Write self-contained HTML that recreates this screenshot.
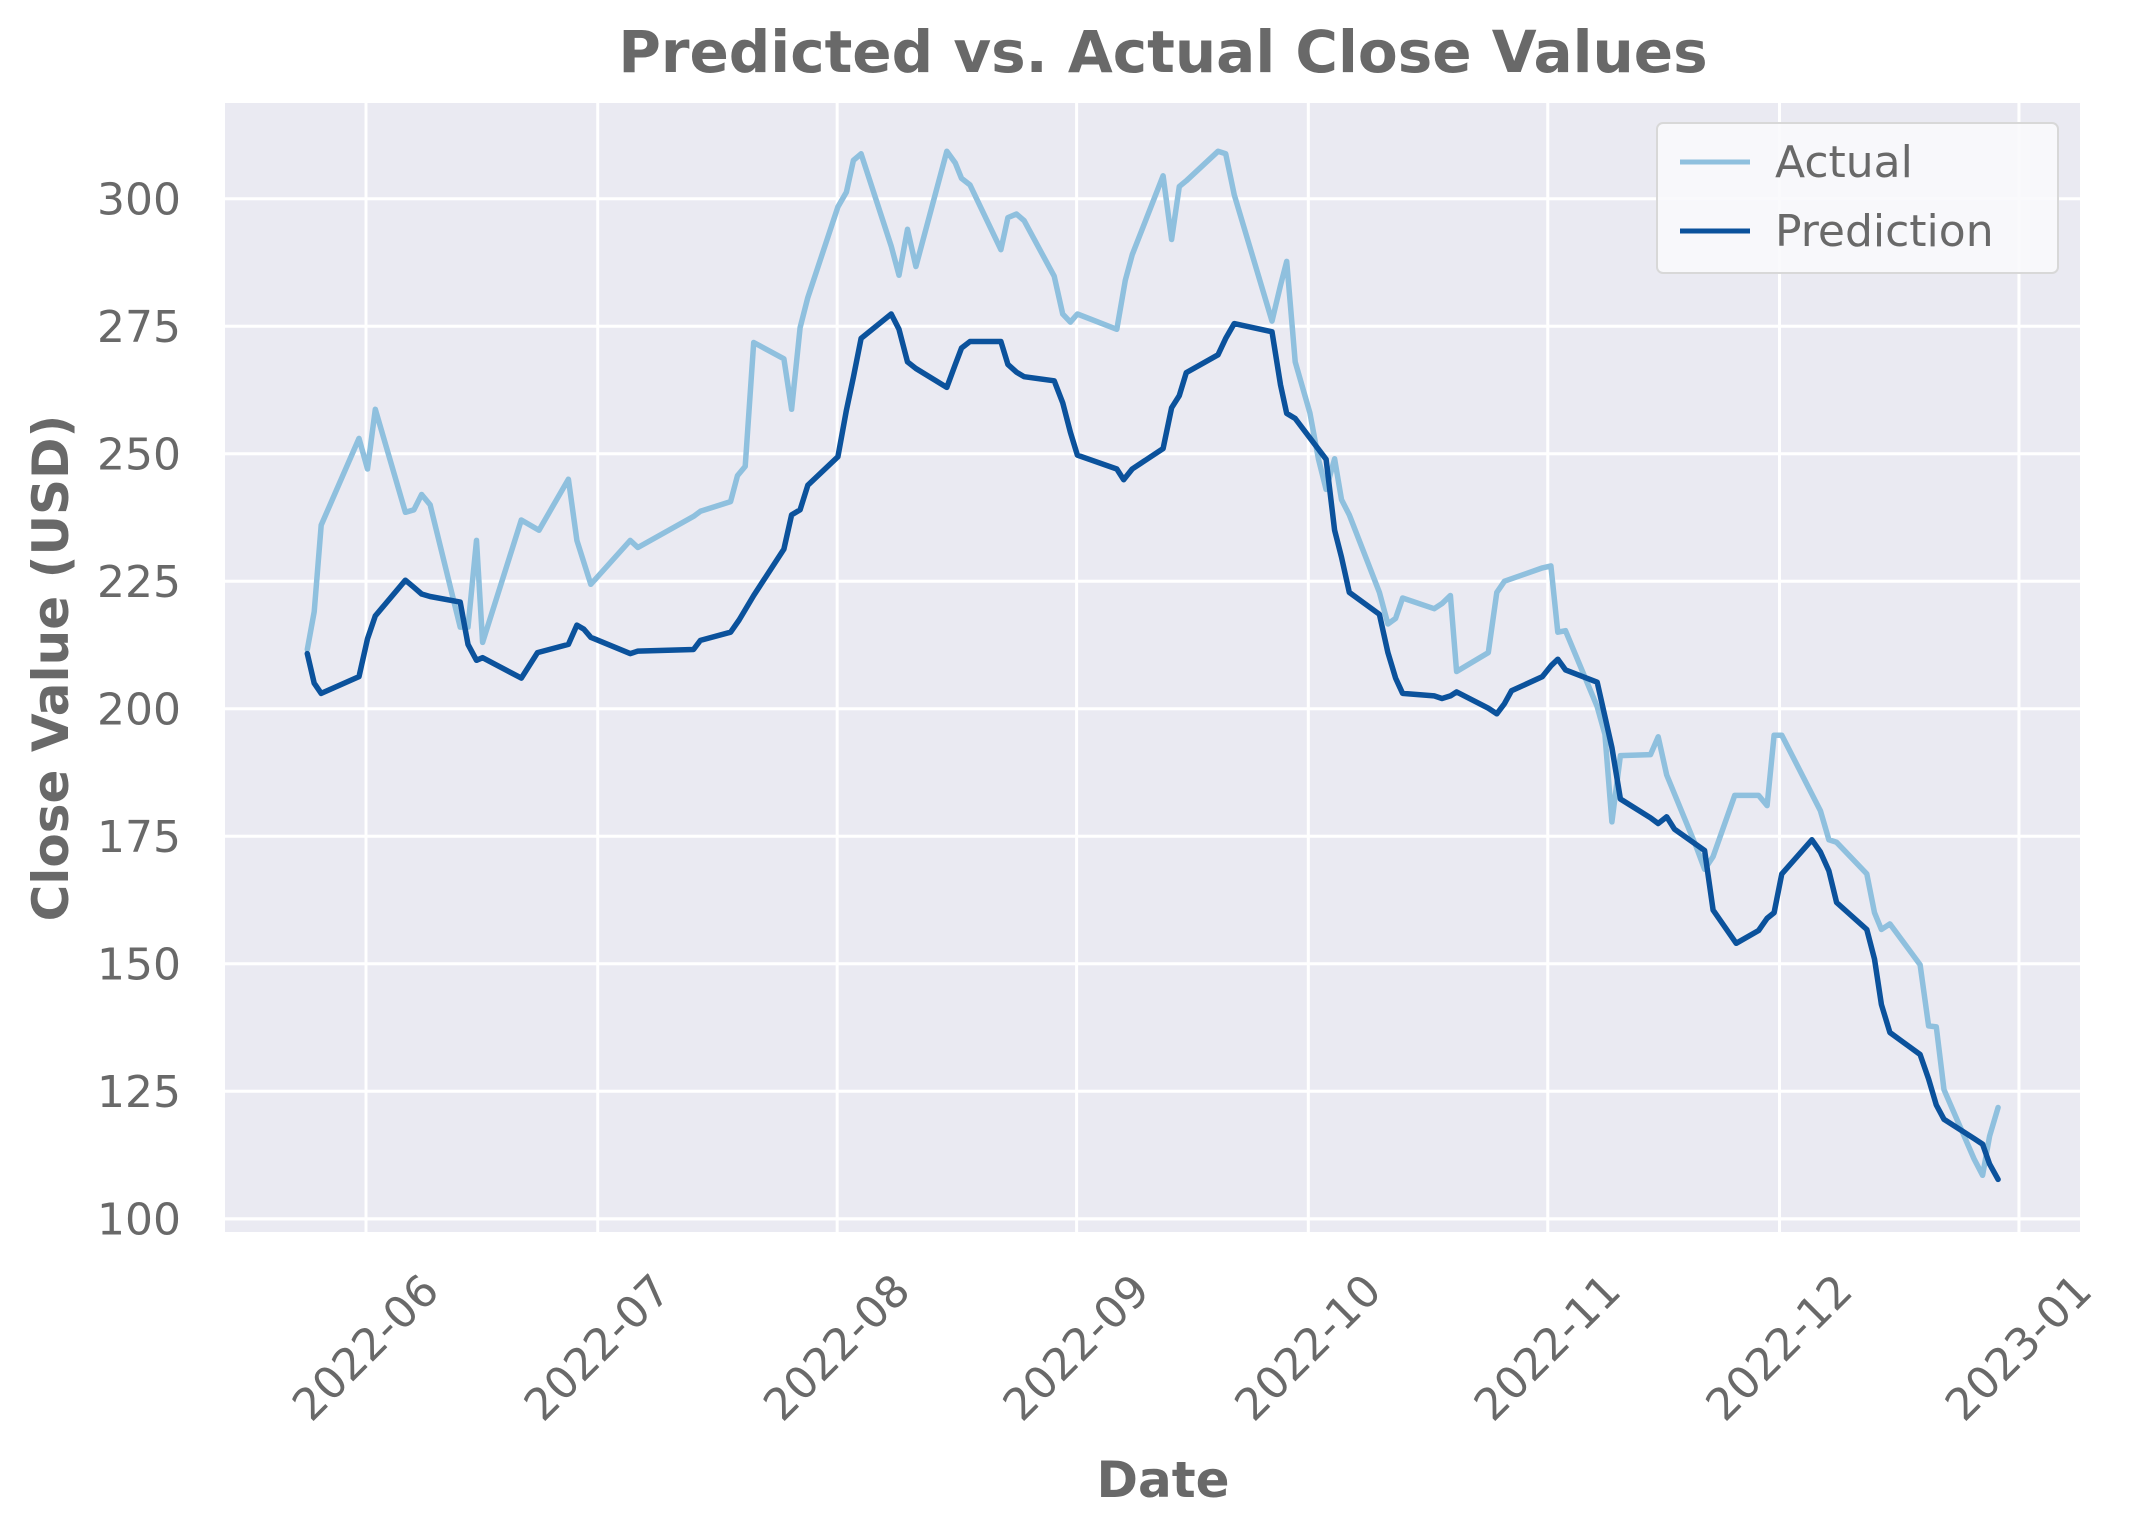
<!DOCTYPE html>
<html><head><meta charset="utf-8"><style>
html,body{margin:0;padding:0;background:#fff}
svg{display:block;font-family:"DejaVu Sans","Liberation Sans",sans-serif}
</style></head><body>
<svg id="chart" width="2132" height="1534" viewBox="0 0 2132 1534" xmlns="http://www.w3.org/2000/svg">
<rect x="225" y="103" width="1855" height="1129" fill="#eaeaf2"/>
<g id="grid"></g>
<g id="series"></g>
<g id="ticks" fill="#696969" font-size="44"></g>
<text x="1163" y="72" text-anchor="middle" font-size="58" font-weight="bold" fill="#696969">Predicted vs. Actual Close Values</text>
<text x="1163" y="1497" text-anchor="middle" font-size="50" font-weight="bold" fill="#696969">Date</text>
<text transform="translate(68,668) rotate(-90)" text-anchor="middle" font-size="50" font-weight="bold" fill="#696969">Close Value (USD)</text>
<g>
<rect x="1657" y="123" width="401" height="150" rx="6" fill="#fafafc" fill-opacity="0.9" stroke="#d8d8d8" stroke-width="2"/>
<line x1="1680" y1="162" x2="1750" y2="162" stroke="#8fc0de" stroke-width="5"/>
<text x="1775" y="177" font-size="44" fill="#696969">Actual</text>
<line x1="1680" y1="231" x2="1750" y2="231" stroke="#0b529c" stroke-width="5"/>
<text x="1775" y="246" font-size="44" fill="#696969">Prediction</text>
</g>
</svg>
<script>
// day offsets from 2022-06-01
const actualDays=[-7.6,-6.7,-5.8,-0.9,0.2,1.2,5.1,6.2,7.2,8.3,12.2,13.2,14.3,15.1,20.1,22.4,26.2,27.3,29.1,34.2,35.2,42.4,43.3,47.2,48.1,49.1,50.2,54.1,55.1,56.2,57.2,61.1,62.2,63.1,64.1,68.0,69.0,70.1,71.2,75.2,76.3,77.1,78.2,82.2,83.1,84.2,85.2,89.1,90.2,91.2,92.1,97.2,98.3,99.2,103.2,104.3,105.3,106.2,110.3,111.3,112.4,117.3,118.4,119.2,120.3,122.2,123.3,124.3,125.4,126.3,127.3,131.2,132.3,133.3,134.2,138.3,139.3,140.4,141.2,145.3,146.4,147.4,152.3,153.4,154.3,155.3,159.4,160.4,161.3,162.4,166.3,167.3,168.4,172.2,173.3,174.4,177.2,180.3,181.4,182.3,183.3,188.3,189.4,190.4,194.3,195.3,196.2,197.3,201.2,202.3,203.3,204.3,208.2,209.3,210.2,211.3];
const actualValues=[211.6,219,236,253,247,258.7,238.5,239,242,240,216,216,233,213,237,235,245,233,224.4,233,231.6,237.7,238.7,240.6,245.7,247.5,271.8,268.6,258.7,274.7,280.6,298.4,301.3,307.5,308.8,290.7,285,294,286.7,309.3,307,304,302.7,290,296.3,297,295.7,284.8,277.4,275.8,277.4,274.4,284,289,304.5,292,302.4,303.5,309.3,308.8,300.8,276,283,287.7,268,258,249,243,249,241,238,222.8,216.6,217.7,221.7,219.6,220.6,222.2,207.3,211,222.8,225,227.6,228,215,215.3,200.4,195,177.8,190.8,191,194.5,187,173,168.5,171,183,183,181,194.8,194.8,180,174.3,173.8,167.6,160,156.7,157.8,149.8,137.8,137.6,125.3,111.7,108.5,116.2,121.8];
const predDays=[-7.6,-6.7,-5.8,-0.9,0.2,1.2,5.1,6.2,7.2,8.3,12.2,13.2,14.3,15.1,20.1,22.2,26.2,27.3,28.2,29.1,34.2,35.2,42.4,43.3,47.2,48.3,50.2,54.1,55.1,56.2,57.2,61.1,62.2,63.1,64.1,68.0,69.0,70.1,71.2,75.2,76.3,77.1,78.2,82.2,83.1,84.2,85.2,89.1,90.2,91.2,92.1,97.2,98.1,99.2,103.2,104.3,105.3,106.2,110.3,111.3,112.4,117.3,118.4,119.2,120.3,124.3,125.4,126.3,127.3,131.2,132.3,133.3,134.2,138.3,139.3,140.4,141.2,145.3,146.4,147.4,148.3,152.3,153.4,154.3,155.3,159.4,160.4,161.3,162.4,166.3,167.3,168.4,169.4,173.3,174.4,177.4,180.3,181.4,182.3,183.3,187.2,188.3,189.4,190.4,194.3,195.3,196.2,197.3,201.2,202.3,203.3,204.3,208.2,209.3,210.2,211.3];
const predValues=[210.8,205,203,206.3,213.7,218.2,225.2,223.8,222.5,222,220.9,212.6,209.5,210,206,211,212.6,216.4,215.6,214,210.8,211.3,211.6,213.4,215,217.4,222.2,231.3,238,239,243.8,249.4,258.5,265,272.6,277.4,274.4,268,266.7,263,267.5,270.7,272,272,267.5,266,265.1,264.3,260,254.2,249.7,247,244.9,247,251,259,261.4,265.9,269.4,272.6,275.5,273.9,263.5,257.9,256.9,248.9,235,229.7,222.8,218.5,211,206,203,202.5,202,202.5,203.3,200.1,199,201,203.5,206.3,208.4,209.7,207.6,205.2,198.5,192.4,182.3,178.6,177.5,178.8,176.4,172.2,160.5,154,156.5,158.9,160,167.6,174.3,171.9,168.2,162,156.7,150.9,142,136.5,132.2,127.4,122.3,119.5,115.7,114.6,110.7,107.7];
const yTicks=[100,125,150,175,200,225,250,275,300];
const xTickDays=[0,30,61,92,122,153,183,214];
const xTickLabels=["2022-06","2022-07","2022-08","2022-09","2022-10","2022-11","2022-12","2023-01"];

const NS="http://www.w3.org/2000/svg";
const L=225,R=2080,T=103,B=1232;
function xs(d){return 366+d*7.724;}
function ys(v){return 198.7+(300-v)*5.1;}
function mk(tag,attrs,parent){const e=document.createElementNS(NS,tag);for(const k in attrs)e.setAttribute(k,attrs[k]);parent.appendChild(e);return e;}
const grid=document.getElementById('grid'),ticks=document.getElementById('ticks'),series=document.getElementById('series');
yTicks.forEach(v=>{
  const g=mk('line',{x1:L,x2:R,y1:ys(v),y2:ys(v),stroke:'#fff','stroke-width':3},grid);
  
  
  const t=mk('text',{x:181,y:ys(v)+16,'text-anchor':'end'},ticks);
  t.textContent=v;
  
  
});
xTickDays.forEach((d,i)=>{
  const x=xs(d);
  const g=mk('line',{x1:x,x2:x,y1:T,y2:B,stroke:'#fff','stroke-width':3},grid);
  
  
  const t=mk('text',{x:x,y:1348,'text-anchor':'middle','dominant-baseline':'central',transform:`rotate(-45 ${x} 1348)`},ticks);
  t.textContent=xTickLabels[i];
  
  
});
const band=mk('line',{x1:L,x2:R,y1:1219,y2:1219,stroke:'#fff','stroke-width':3},grid);


function line(days,vals,color,name){
  const p=days.map((d,i)=>xs(d).toFixed(1)+','+ys(vals[i]).toFixed(1)).join(' ');
  const e=mk('polyline',{points:p,fill:'none',stroke:color,'stroke-width':5.5,'stroke-linejoin':'round','stroke-linecap':'round'},series);
  
  
}
line(actualDays,actualValues,'#8fc0de','actual-line');
line(predDays,predValues,'#0b529c','prediction-line');
</script>
</body></html>
